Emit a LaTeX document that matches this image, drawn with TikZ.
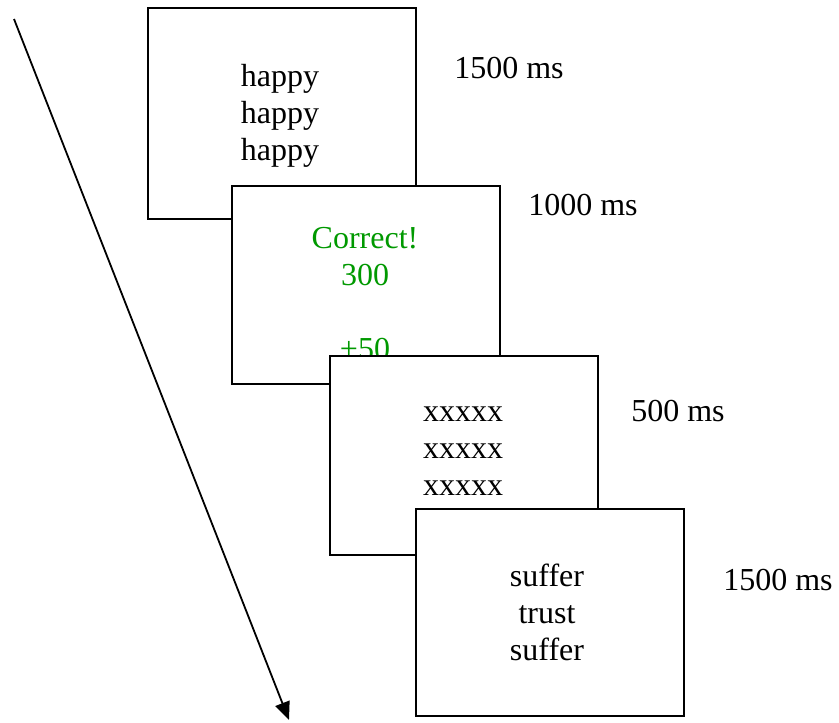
\documentclass[tikz,border=0pt]{standalone}
\usepackage{fontspec}
\setmainfont{Liberation Serif}
\usetikzlibrary{arrows.meta}
\definecolor{okgreen}{RGB}{0,153,0}
\begin{document}
\begin{tikzpicture}[x=1pt,y=-1pt,
  screen/.style={draw=black,fill=white,line width=1.8pt,inner sep=0pt,anchor=north west},
  words/.style={inner sep=0pt,align=center,font=\fontsize{32}{37}\selectfont},
  dur/.style={inner sep=0pt,font=\fontsize{32}{37}\selectfont}]
\useasboundingbox (0,0) rectangle (839,723);
% time arrow
\coordinate (tstart) at (14,19);
\coordinate (tend) at (289,720);
\draw[line width=1.8pt,-{Triangle[length=18pt,width=15pt]}] (tstart) -- (tend);
% screen 1
\node[screen,minimum width=268pt,minimum height=211pt] (s1) at (147,7) {};
\node[words] (t1) at (280,116) {happy\\happy\\happy};
\node[dur] (d1) at (509,68) {1500 ms};
% screen 2
\node[screen,minimum width=268pt,minimum height=198pt] (s2) at (231,185) {};
\node[words,text=okgreen] (t2) at (365,294) {Correct!\\300\\ \\+50};
\node[dur] (d2) at (583,205) {1000 ms};
% screen 3
\node[screen,minimum width=268pt,minimum height=199pt] (s3) at (329,355) {};
\node[words] (t3) at (463,451) {xxxxx\\xxxxx\\xxxxx};
\node[dur] (d3) at (678,411) {500 ms};
% screen 4
\node[screen,minimum width=268pt,minimum height=207pt] (s4) at (415,508) {};
\node[words] (t4) at (547,612) {suffer\\trust\\suffer};
\node[dur] (d4) at (778,580) {1500 ms};
\end{tikzpicture}
\end{document}
